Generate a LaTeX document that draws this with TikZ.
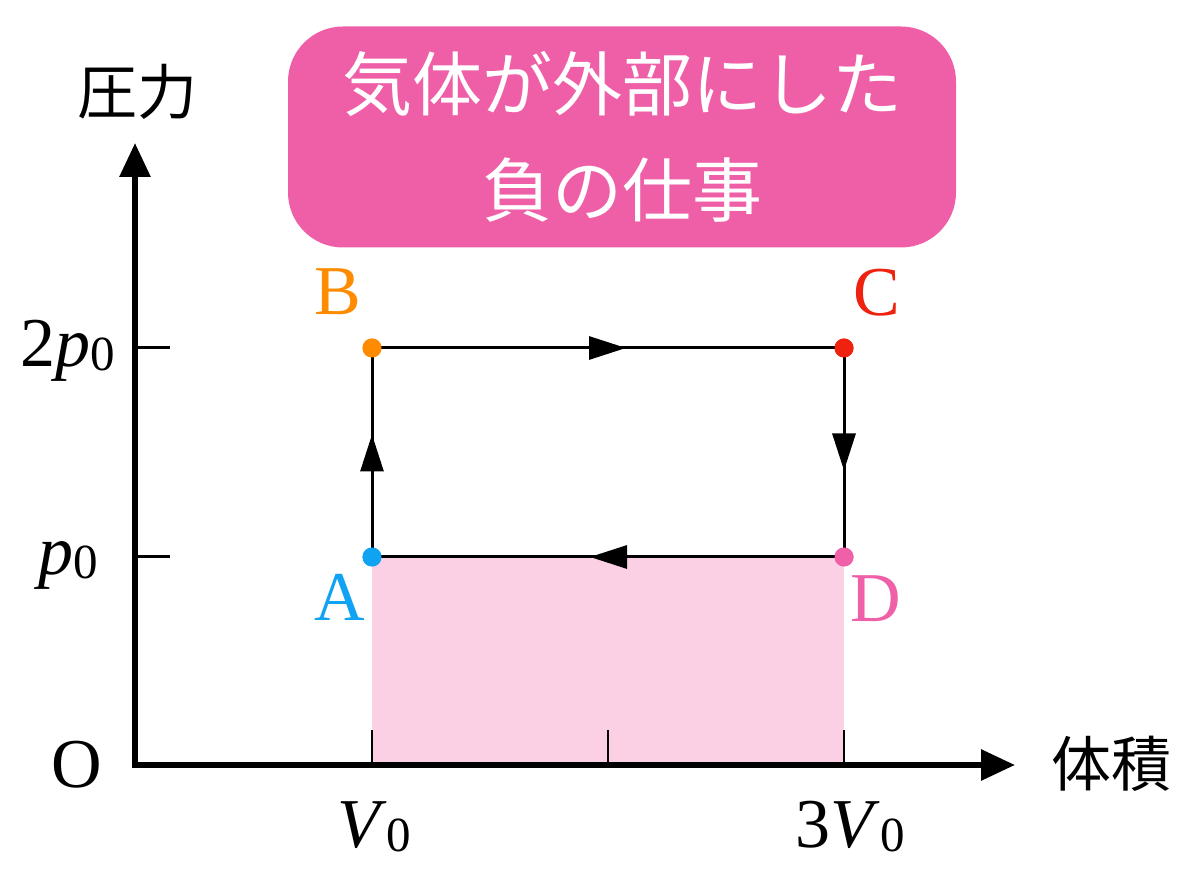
\documentclass[tikz,border=0pt]{standalone}
\usepackage{fontspec}
\setmainfont{Liberation Serif}
\newfontfamily\cjk{Noto Sans CJK JP}
\usetikzlibrary{positioning, calc, arrows.meta, decorations.markings}

\definecolor{ptA}{HTML}{0FA3F2}
\definecolor{ptB}{HTML}{FF8C00}
\definecolor{ptC}{HTML}{EE220F}
\definecolor{ptD}{HTML}{EF60A8}
\definecolor{boxpink}{HTML}{EF5FA7}
\definecolor{areapink}{HTML}{FBD0E5}

% italic letter with a small 0 after it
\newcommand{\zsub}[1]{\textit{#1}\raisebox{-4pt}{\fontsize{49}{49}\selectfont 0}}

\tikzset{
    axisline/.style={line width=6pt, line join=miter, {Triangle[length=34pt,width=30pt]}-{Triangle[length=34pt,width=30pt]}},
    tick/.style={line width=2.5pt},
    cycleline/.style={line width=3pt},
    midarrow/.style={postaction={decorate}, decoration={markings,
        mark=at position 0.5 with {\pgftransformxshift{18pt}\arrow{Triangle[length=37pt,width=23pt]}}}},
    dot/.style={circle, inner sep=0pt, minimum size=19pt},
    lbl/.style={inner sep=0pt, anchor=base, font=\fontsize{70}{70}\selectfont},
    jlbl/.style={inner sep=0pt, font=\cjk\fontsize{60}{60}\selectfont},
    titlebox/.style={fill=boxpink, rounded corners=55pt, text=white, align=center,
        minimum width=668pt, minimum height=221pt, font=\cjk\fontsize{70}{106}\selectfont}
}

\begin{document}
\begin{tikzpicture}[x=1pt, y=1pt]
    \useasboundingbox (0,0) rectangle (1200,868);

    \coordinate (O) at (135,103);
    \coordinate (ytop) at (135,725);
    \coordinate (xend) at (1015,103);

    % work area under D -> A
    \fill[areapink] (372,103) rectangle (844,311);
    \foreach \x in {372,608,844}
        \draw[tick] (\x,103) -- (\x,138);
    \foreach \y in {311,520}
        \draw[cycleline] (135,\y) -- (170,\y);

    \draw[axisline] (ytop) -- (O) -- (xend);

    \node[dot, fill=ptA] (A) at (372,311) {};
    \node[dot, fill=ptB] (B) at (372,520) {};
    \node[dot, fill=ptC] (C) at (844,520) {};
    \node[dot, fill=ptD] (D) at (844,311) {};

    \draw[cycleline, midarrow] (A.center) -- (B.center);
    \draw[cycleline, midarrow] (B.center) -- (C.center);
    \draw[cycleline, midarrow] (C.center) -- (D.center);
    \draw[cycleline, midarrow] (D.center) -- (A.center);
    \foreach \p/\c in {A/ptA, B/ptB, C/ptC, D/ptD}
        \node[dot, fill=\c] at (\p) {};

    \node[lbl, text=ptA] (lA) at ($(A)+(-32,-64)$) {A};
    \node[lbl, text=ptB] (lB) at ($(B)+(-34,33)$) {B};
    \node[lbl, text=ptC] (lC) at ($(C)+(33,32)$) {C};
    \node[lbl, text=ptD] (lD) at ($(D)+(32,-65)$) {D};

    \node[lbl] (p2) at (68,501) {2\zsub{p}};
    \node[lbl] (p1) at (68,293) {\zsub{p}};
    \node[lbl] (v1) at (374,21) {\zsub{V}};
    \node[lbl] (v3) at (850,21) {3\zsub{V}};
    \node[lbl] (orig) at (77,80) {O};

    \node[jlbl] (ylab) at (137,776) {圧力};
    \node[jlbl] (xlab) at (1111,104) {体積};

    \node[titlebox] (title) at (622,731) {気体が外部にした\\負の仕事};
\end{tikzpicture}
\end{document}
